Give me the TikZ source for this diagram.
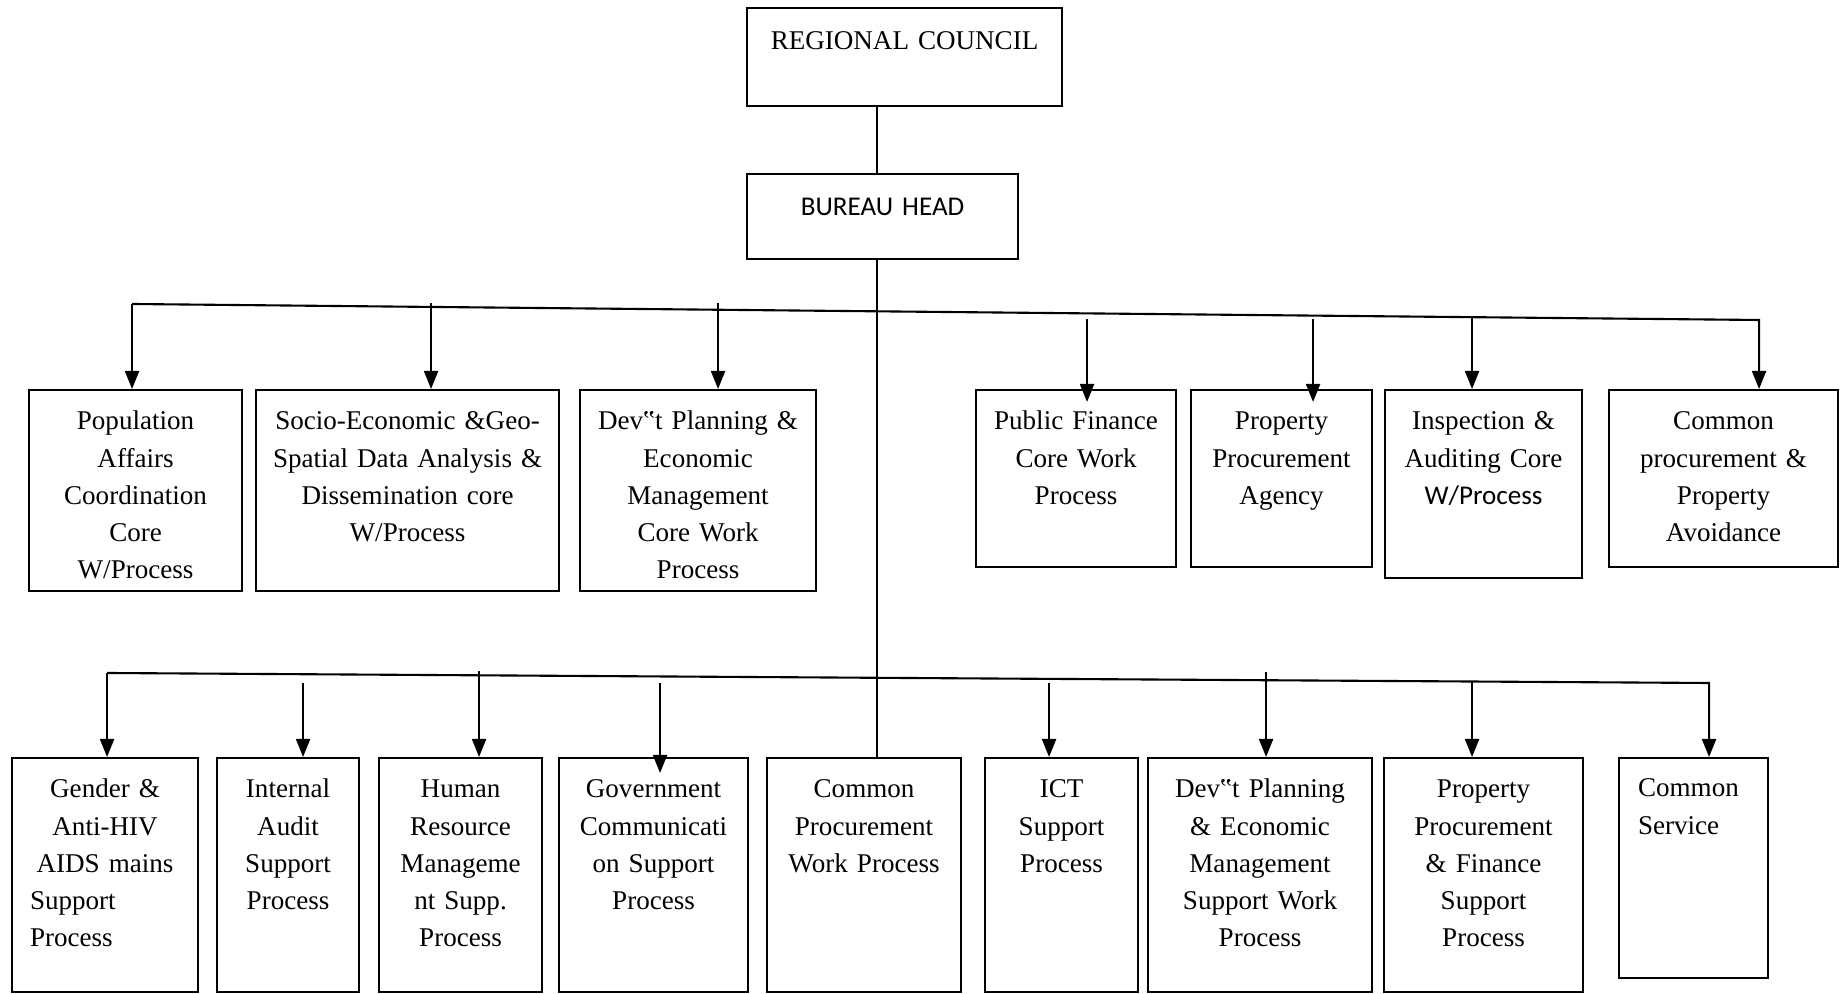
\documentclass[tikz,border=0pt]{standalone}
\usepackage{fontspec}
\setmainfont{Liberation Serif}
\newfontfamily\sansfnt{Carlito}
\usetikzlibrary{arrows.meta}

\tikzset{
  unit/.style={draw, anchor=north west, inner sep=0pt},
  txt/.style={anchor=base, inner sep=0pt, text width=#1, align=center,
    font=\fontsize{7.7}{10.55}\selectfont},
}

\begin{document}
\begin{tikzpicture}[>={Triangle[length=1.8mm,width=1.4mm]}, line width=0.6pt]
    \useasboundingbox (0,0) rectangle (18.47,-9.94);
    % Council and head
    \node[unit, minimum width=3.15cm, minimum height=0.98cm] (rc) at (7.46,-0.07) {};
    \node[txt=3.15cm] (rct) at ([yshift=-0.43cm]rc.north) {REGIONAL COUNCIL};
    \node[unit, minimum width=2.71cm, minimum height=0.85cm] (bh) at (7.46,-1.73) {};
    \node[txt=2.71cm, font=\sansfnt\fontsize{7.7}{10.55}\selectfont] (bht)
        at ([yshift=-0.43cm]bh.north) {BUREAU HEAD};

    % Core work processes
    \foreach \n/\x/\w/\h in {pop/0.28/2.13/2.01, soc/2.55/3.03/2.01, devc/5.79/2.36/2.01,
        pf/9.75/2.00/1.77, ppa/11.90/1.81/1.77, insp/13.84/1.97/1.88, cmp/16.08/2.29/1.77}
        \node[unit, minimum width=\w cm, minimum height=\h cm] (\n) at (\x,-3.89) {};
    \node[txt=2.13cm] (popt) at ([yshift=-0.41cm]pop.north) {Population\\Affairs\\Coordination\\Core\\W/Process};
    \node[txt=3.03cm] (soct) at ([yshift=-0.41cm]soc.north) {Socio-Economic \&Geo-\\Spatial Data Analysis \&\\Dissemination core\\W/Process};
    \node[txt=2.36cm] (devct) at ([yshift=-0.41cm]devc.north) {Dev‟t Planning \&\\Economic\\Management\\Core Work\\Process};
    \node[txt=2.00cm] (pft) at ([yshift=-0.41cm]pf.north) {Public Finance\\Core Work\\Process};
    \node[txt=1.81cm] (ppat) at ([yshift=-0.41cm]ppa.north) {Property\\Procurement\\Agency};
    \node[txt=1.97cm] (inspt) at ([yshift=-0.41cm]insp.north) {Inspection \&\\Auditing Core\\{\sansfnt W/Process}};
    \node[txt=2.29cm] (cmpt) at ([yshift=-0.41cm]cmp.north) {Common\\procurement \&\\Property\\Avoidance};

    % Support processes
    \foreach \n/\x/\w/\h in {gen/0.11/1.86/2.34, ia/2.16/1.42/2.34, hr/3.78/1.63/2.34,
        gov/5.58/1.89/2.34, cpw/7.66/1.94/2.34, ict/9.84/1.53/2.34, devs/11.47/2.24/2.34,
        ppf/13.83/1.99/2.34, cs/16.18/1.49/2.20}
        \node[unit, minimum width=\w cm, minimum height=\h cm] (\n) at (\x,-7.57) {};
    \node[txt=1.50cm] (gent) at ([yshift=-0.41cm]gen.north) {Gender \&\\Anti-HIV\\AIDS mains\\Support\hfill\null\\Process\hfill\null};
    \node[txt=1.42cm] (iat) at ([yshift=-0.41cm]ia.north) {Internal\\Audit\\Support\\Process};
    \node[txt=1.63cm] (hrt) at ([yshift=-0.41cm]hr.north) {Human\\Resource\\Manageme\\nt Supp.\\Process};
    \node[txt=1.89cm] (govt) at ([yshift=-0.41cm]gov.north) {Government\\Communicati\\on Support\\Process};
    \node[txt=1.94cm] (cpwt) at ([yshift=-0.41cm]cpw.north) {Common\\Procurement\\Work Process};
    \node[txt=1.53cm] (ictt) at ([yshift=-0.41cm]ict.north) {ICT\\Support\\Process};
    \node[txt=2.24cm] (devst) at ([yshift=-0.41cm]devs.north) {Dev‟t Planning\\\& Economic\\Management\\Support Work\\Process};
    \node[txt=1.99cm] (ppft) at ([yshift=-0.41cm]ppf.north) {Property\\Procurement\\\& Finance\\Support\\Process};
    \node[txt=1.11cm, align=left] (cst) at ([yshift=-0.40cm]cs.north) {Common\\Service};

    % Trunk
    \coordinate (tk) at (8.77,0);
    \draw (tk |- rc.south) -- (tk |- bh.north);
    \draw (tk |- bh.south) -- (tk |- cpw.north);

    % Upper bus
    \coordinate (b1l) at ([xshift=-0.035cm]pop.north |- 0,-3.04);
    \coordinate (b1r) at ([xshift=0.355cm]cmp.north |- 0,-3.20);
    \draw[->] (b1l) -- ([xshift=-0.035cm]pop.north);
    \draw[->] (b1l) -- (b1r) -- ([xshift=0.355cm]cmp.north);
    \foreach \b/\dx/\ys/\dy in {soc/0.235/-3.03/0, devc/0.20/-3.03/0, pf/0.11/-3.19/-0.13,
        ppa/0.315/-3.19/-0.13, insp/-0.115/-3.17/0}
        \draw[->] ([xshift=\dx cm]\b.north |- 0,\ys) -- ([xshift=\dx cm, yshift=\dy cm]\b.north);

    % Lower bus
    \coordinate (b2l) at ([xshift=0.02cm]gen.north |- 0,-6.73);
    \coordinate (b2r) at ([xshift=0.155cm]cs.north |- 0,-6.83);
    \draw[->] (b2l) -- ([xshift=0.02cm]gen.north);
    \draw[->] (b2l) -- (b2r) -- ([xshift=0.155cm]cs.north);
    \foreach \b/\dx/\ys/\dy in {ia/0.15/-6.83/0, hr/0.185/-6.71/0, gov/0.065/-6.83/-0.16,
        ict/-0.125/-6.83/0, devs/0.06/-6.72/0, ppf/-0.115/-6.82/0}
        \draw[->] ([xshift=\dx cm]\b.north |- 0,\ys) -- ([xshift=\dx cm, yshift=\dy cm]\b.north);
\end{tikzpicture}
\end{document}
